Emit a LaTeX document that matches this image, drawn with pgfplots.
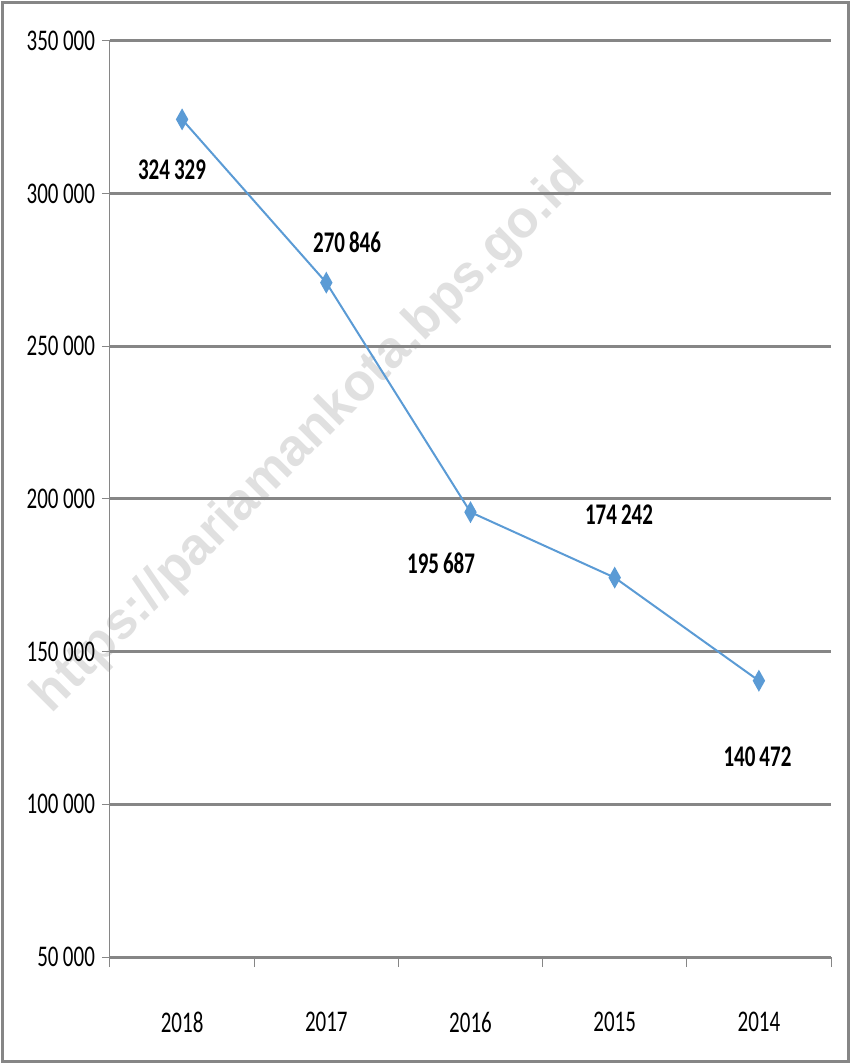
\documentclass[border=0pt]{standalone}
\usepackage{pgfplots}
\pgfplotsset{compat=1.18}
\usepackage{fontspec}
\setmainfont{Carlito}[FakeStretch=0.7]
\newfontfamily\wmfont{Liberation Sans}
\definecolor{serie}{RGB}{91,155,213}
\definecolor{gridc}{RGB}{134,134,134}
\definecolor{framec}{RGB}{134,134,134}
\definecolor{wm}{RGB}{224,224,224}
\begin{document}
\begin{tikzpicture}
\useasboundingbox (-55pt,-53.5pt) rectangle (370.5pt,478.5pt);
\draw[framec, line width=1.5pt] (-53.5pt,-52pt) rectangle (369pt,477pt);
\node[rotate=45, text=wm, font=\wmfont\bfseries\fontsize{26}{27}\selectfont] at (100pt,260pt) {https://pariamankota.bps.go.id};
\begin{axis}[
  scale only axis, width=360.5pt, height=458pt,
  xmin=-0.5, xmax=4.5, ymin=50000, ymax=350000,
  axis lines*=left,
  axis line style={-},
  x axis line style={gridc, line width=1.5pt},
  y axis line style={gridc, line width=0.5pt},
  ytick={50000,100000,...,350000},
  scaled y ticks=false,
  yticklabel style={/pgf/number format/fixed, /pgf/number format/1000 sep={\kern2.2pt}},
  ymajorgrids,
  major grid style={gridc, line width=1.5pt},
  xtick={0,1,2,3,4},
  xticklabels={2018,2017,2016,2015,2014},
  major x tick style={draw=none},
  minor xtick={-0.5,0.5,1.5,2.5,3.5,4.5},
  minor x tick style={gridc, line width=0.5pt},
  minor tick length=5pt,
  major tick length=4pt,
  y tick style={gridc, line width=0.5pt},
  tick align=outside,
  xticklabel style={yshift=-20pt},
  tick label style={font=\fontsize{15}{16}\selectfont},
  /pgf/number format/assume math mode=true,
  clip=false,
]
\addplot[serie, line width=1pt, mark=diamond*, mark size=4.5pt, mark options={fill=serie, draw=serie, xscale=0.75}]
  coordinates {(0,324329) (1,270846) (2,195687) (3,174242) (4,140472)};
\begin{scope}[every node/.style={font=\bfseries\fontsize{15}{16}\selectfont}]
\node at (axis cs:-0.07,307754) {324\kern2pt329};
\node at (axis cs:1.144,284173) {270\kern2pt846};
\node at (axis cs:1.796,179041) {195\kern2pt687};
\node at (axis cs:3.03,194764) {174\kern2pt242};
\node at (axis cs:3.99,115506) {140\kern2pt472};
\end{scope}
\end{axis}
\end{tikzpicture}
\end{document}
